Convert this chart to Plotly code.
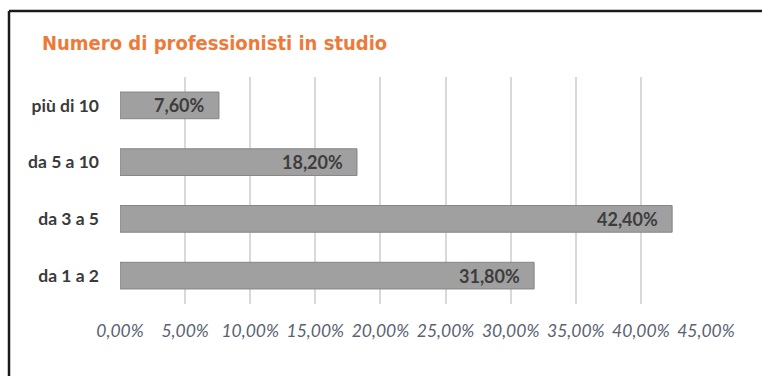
import plotly.graph_objects as go

# Chart data
categories = ["da 1 a 2", "da 3 a 5", "da 5 a 10", "più di 10"]
shares = [0.318, 0.424, 0.182, 0.076]
tick_values = [0.0, 0.05, 0.10, 0.15, 0.20, 0.25, 0.30, 0.35, 0.40, 0.45]

W, H = 762, 376
M_L, M_R, M_T, M_B = 120, 56, 77, 72
PW = W - M_L - M_R
PH = H - M_T - M_B


def px_x(x):
    return (x - M_L) / PW


def px_y(y):
    return 1 - (y - M_T) / PH


fig = go.Figure()

fig.add_trace(go.Bar(
    y=categories,
    x=shares,
    orientation="h",
    width=0.47,
    marker=dict(color="#a0a0a0", line=dict(color="#858585", width=1)),
    hoverinfo="skip",
))

# Value labels at the inner end of each bar
for cat, v in zip(categories, shares):
    fig.add_annotation(
        x=v, y=cat, xref="x", yref="y",
        text=f"{v * 100:.2f}%".replace(".", ","),
        showarrow=False, xanchor="right", xshift=-12,
        font=dict(family="Lato", size=18, color="#3d3d3d", weight="bold"),
    )

# Title
fig.add_annotation(
    x=px_x(40), y=px_y(43), xref="paper", yref="paper",
    text="Numero di professionisti in studio",
    showarrow=False, xanchor="left", yanchor="middle",
    font=dict(family="Liberation Sans Narrow, DejaVu Sans Condensed, Arial", size=20,
              color="#ee7a3a", weight="bold"),
)

# Frame around the chart (left and top edges)
frame = dict(color="#1a1a1a", width=2.5)
fig.add_shape(type="line", xref="paper", yref="paper",
              x0=px_x(9), x1=px_x(W + 5), y0=px_y(11), y1=px_y(11), line=frame)
fig.add_shape(type="line", xref="paper", yref="paper",
              x0=px_x(9), x1=px_x(9), y0=px_y(11), y1=px_y(H + 5), line=frame)

fig.update_layout(
    width=W, height=H,
    margin=dict(l=M_L, r=M_R, t=M_T, b=M_B),
    paper_bgcolor="white", plot_bgcolor="white",
    separators=",.",
    showlegend=False,
    bargap=0.5,
    xaxis=dict(
        range=[0, 0.45], tickvals=tick_values, tickformat=".2%",
        showgrid=True, gridcolor="#d9d9d9", gridwidth=1.5,
        zeroline=False, showline=False, ticks="",
        tickfont=dict(family="Lato", size=17.5, color="#5a6272", style="italic"),
        ticklabelstandoff=14,
    ),
    yaxis=dict(
        categoryorder="array", categoryarray=categories,
        showgrid=False, zeroline=False, showline=False, ticks="",
        tickfont=dict(family="Lato", size=17.5, color="#3a3a3a", weight="bold"),
        ticklabelstandoff=20,
    ),
)

fig.write_html("out.html")
